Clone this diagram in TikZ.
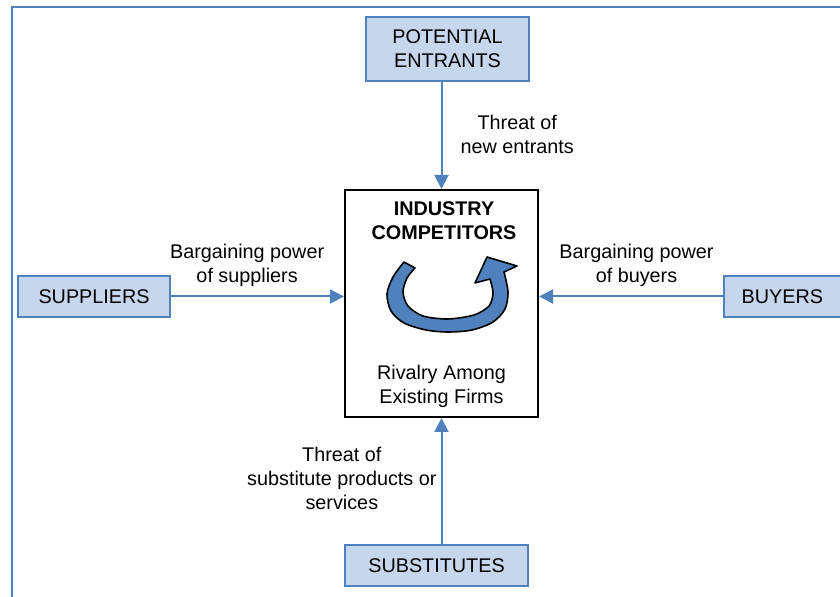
\documentclass[tikz,border=0pt]{standalone}
\usepackage{fontspec}
\setmainfont{Liberation Sans}
\usetikzlibrary{positioning,arrows.meta}
\definecolor{forceblue}{RGB}{79,129,189}
\definecolor{forcefill}{RGB}{198,214,236}

\begin{document}
\begin{tikzpicture}[>={Triangle[length=7pt,width=7pt]},
		font=\fontsize{9.9}{12}\selectfont,
		force/.style={draw=forceblue, fill=forcefill, line width=0.9pt, inner sep=0pt, align=center, minimum height=20.5pt},
		push/.style={->, draw=forceblue, line width=1pt},
		lbl/.style={inner sep=0pt, align=center},
		title/.style={lbl, font=\fontsize{9.9}{12}\selectfont\bfseries}]
			\useasboundingbox (0,0) rectangle (420pt,-298.5pt);
			\draw[forceblue, line width=1.2pt] (6pt,-298.5pt) |- (420pt,-3.5pt);

			% the five forces
			\node[draw, line width=1pt, minimum width=96.5pt, minimum height=113.5pt, inner sep=0pt] (comp) at (220.75pt,-151.75pt) {};
			\node[force, minimum width=81.5pt, minimum height=32pt] (ent) [above=53.5pt of comp, xshift=3pt] {POTENTIAL\\ENTRANTS};
			\node[force, minimum width=76pt] (sup) [left=86.5pt of comp, yshift=3.5pt] {SUPPLIERS};
			\node[force, minimum width=58.5pt] (buy) [right=92pt of comp, yshift=3.5pt] {BUYERS};
			\node[force, minimum width=91.5pt] (sub) [below=63pt of comp, xshift=-2.5pt] {SUBSTITUTES};

			\node[title] (ttl) at ([xshift=1.25pt, yshift=-16pt]comp.north) {INDUSTRY\\COMPETITORS};
			\node[lbl] (riv) at ([yshift=16pt]comp.south) {Rivalry Among\\Existing Firms};

			\draw[push] (ent.south -| comp.north) -- node[lbl, right=9pt, pos=0.48, yshift=-0.5pt] {Threat of\\new entrants} (comp.north);
			\draw[push] (sup.east) -- node[lbl, pos=0.44, yshift=15.5pt] {Bargaining power\\of suppliers} (sup.east -| comp.west);
			\draw[push] (buy.west) -- node[lbl, pos=0.47, yshift=15.5pt] {Bargaining power\\of buyers} (buy.west -| comp.east);
			\draw[push] (sub.north -| comp.south) -- node[lbl, left=2pt, pos=0.5, yshift=1.5pt] {Threat of\\substitute products or\\services} (comp.south);

			% rivalry arrow
			\begin{scope}[shift={([xshift=3.25pt, yshift=4.75pt]comp.center)}, x=0.5pt, y=-0.5pt]
				\filldraw[fill=forceblue, draw=black, line width=0.8pt, line join=round]
				plot[smooth] coordinates {(-44,-32) (-55,-17) (-61,0) (-57,17) (-44,29) (-22,36) (0,38) (24,36) (45,28) (57,15) (60,-2) (56,-22)}
				-- (69,-28) -- (39,-37) -- (27,-11)
				-- plot[smooth] coordinates {(42,-15) (45,-1) (41,12) (26,21) (0,25) (-25,22) (-40,12) (-45,-2) (-41,-16) (-33,-26)}
				-- cycle;
			\end{scope}
		\end{tikzpicture}
\end{document}
